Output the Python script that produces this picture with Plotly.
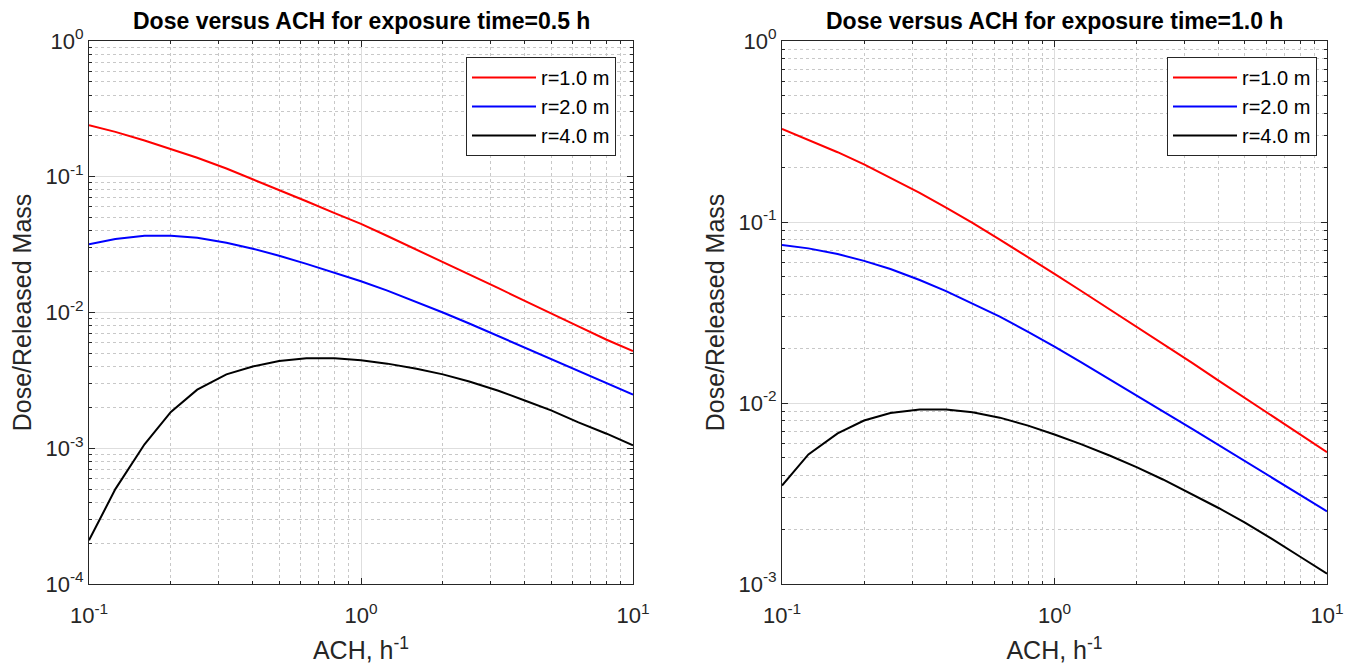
import plotly.graph_objects as go

ach = [0.1, 0.125, 0.16, 0.2, 0.25, 0.32, 0.4, 0.5, 0.63, 0.8, 1.0,
       1.25, 1.6, 2.0, 2.5, 3.2, 4.0, 5.0, 6.3, 8.0, 10.0]

# exposure time = 0.5 h
dose05_r1 = [0.240, 0.214, 0.185, 0.160, 0.138, 0.115, 0.096, 0.080, 0.066, 0.054, 0.045,
             0.0366, 0.0291, 0.0236, 0.0191, 0.0151, 0.0122, 0.0098, 0.0079, 0.0063, 0.0052]
dose05_r2 = [0.0318, 0.0348, 0.0367, 0.0368, 0.0355, 0.0326, 0.0295, 0.0262, 0.0228, 0.0196, 0.0170,
             0.0145, 0.0120, 0.0100, 0.0083, 0.0067, 0.0055, 0.0045, 0.0037, 0.0030, 0.00248]
dose05_r4 = [2.1e-4, 5.0e-4, 1.07e-3, 1.85e-3, 2.7e-3, 3.5e-3, 4.0e-3, 4.4e-3, 4.6e-3, 4.6e-3, 4.45e-3,
             4.2e-3, 3.85e-3, 3.5e-3, 3.1e-3, 2.65e-3, 2.25e-3, 1.9e-3, 1.55e-3, 1.28e-3, 1.05e-3]

# exposure time = 1.0 h
dose10_r1 = [0.327, 0.285, 0.243, 0.208, 0.176, 0.145, 0.120, 0.099, 0.080, 0.064, 0.0517,
             0.0417, 0.0328, 0.0264, 0.0212, 0.01665, 0.0133, 0.01066, 0.00849, 0.00669, 0.00535]
dose10_r2 = [0.0746, 0.0715, 0.0665, 0.0610, 0.0550, 0.0478, 0.0415, 0.0355, 0.0300, 0.0247, 0.0205,
             0.0168, 0.0135, 0.0110, 0.0090, 0.0072, 0.00587, 0.00478, 0.00387, 0.00310, 0.00252]
dose10_r4 = [0.0035, 0.0052, 0.0068, 0.0080, 0.0088, 0.0092, 0.0092, 0.0089, 0.0083, 0.0075, 0.0067,
             0.00593, 0.00511, 0.00442, 0.00378, 0.00314, 0.00263, 0.00218, 0.00177, 0.00141, 0.00114]

series_names = ["r=1.0 m", "r=2.0 m", "r=4.0 m"]
series_colors = ["#ff0000", "#0000ff", "#000000"]
titles = ["Dose versus ACH for exposure time=0.5 h", "Dose versus ACH for exposure time=1.0 h"]

x_tickvals = [0.1, 1, 10]
x_ticktext = ["10<sup>-1</sup>", "10<sup>0</sup>", "10<sup>1</sup>"]
y1_tickvals = [1e-4, 1e-3, 1e-2, 1e-1, 1]
y1_ticktext = ["10<sup>-4</sup>", "10<sup>-3</sup>", "10<sup>-2</sup>", "10<sup>-1</sup>", "10<sup>0</sup>"]
y2_tickvals = [1e-3, 1e-2, 1e-1, 1]
y2_ticktext = ["10<sup>-3</sup>", "10<sup>-2</sup>", "10<sup>-1</sup>", "10<sup>0</sup>"]

W, H = 1357, 666
FONT = "Liberation Sans, Arial, sans-serif"

fig = go.Figure()

panels = [
    (dict(xaxis="x", yaxis="y"), [dose05_r1, dose05_r2, dose05_r4], "legend"),
    (dict(xaxis="x2", yaxis="y2"), [dose10_r1, dose10_r2, dose10_r4], "legend2"),
]
for axes, data, leg in panels:
    for name, col, ys in zip(series_names, series_colors, data):
        fig.add_trace(go.Scatter(x=ach, y=ys, mode="lines", name=name,
                                 line=dict(color=col, width=2), legend=leg, **axes))

dom_left = [89 / W, 633 / W]
dom_right = [782 / W, 1327 / W]
dom_y = [1 - 584 / H, 1 - 41 / H]

axis_common = dict(
    type="log", automargin=False, showline=True, linecolor="#262626", linewidth=1, mirror="ticks",
    ticks="inside", ticklen=6, tickcolor="#262626", tickwidth=1,
    showgrid=True, gridcolor="#dedede", gridwidth=1,
    tickfont=dict(family=FONT, size=22, color="#262626"),
    zeroline=False,
    minor=dict(dtick="D1", ticks="inside", ticklen=3, tickcolor="#262626",
               showgrid=True, gridcolor="#c8c8c8", griddash="dot", gridwidth=1),
)
xtitle = dict(text="ACH, h<sup>-1</sup>", font=dict(family=FONT, size=25, color="#262626"), standoff=14)
ytitle = dict(text="Dose/Released Mass", font=dict(family=FONT, size=25, color="#262626"), standoff=6)

legend_common = dict(yanchor="top", xanchor="right", bordercolor="#262626", borderwidth=1,
                     bgcolor="white", font=dict(family=FONT, size=20, color="#000000"),
                     itemwidth=64, tracegroupgap=0)

fig.update_layout(
    width=W, height=H, margin=dict(l=0, r=0, t=0, b=0),
    paper_bgcolor="white", plot_bgcolor="white",
    xaxis=dict(domain=dom_left, range=[-1, 1], tickvals=x_tickvals, ticktext=x_ticktext,
               anchor="y", title=xtitle, ticklabelstandoff=12, **axis_common),
    yaxis=dict(domain=dom_y, range=[-4, 0], tickvals=y1_tickvals, ticktext=y1_ticktext,
               anchor="x", title=ytitle, **axis_common),
    xaxis2=dict(domain=dom_right, range=[-1, 1], tickvals=x_tickvals, ticktext=x_ticktext,
                anchor="y2", title=xtitle, ticklabelstandoff=12, **axis_common),
    yaxis2=dict(domain=dom_y, range=[-3, 0], tickvals=y2_tickvals, ticktext=y2_ticktext,
                anchor="x2", title=ytitle, **axis_common),
    legend=dict(x=616 / W, y=1 - 57 / H, **legend_common),
    legend2=dict(x=1317 / W, y=1 - 57 / H, **legend_common),
    showlegend=True,
)

for dom, t in zip([dom_left, dom_right], titles):
    fig.add_annotation(text="<b>" + t + "</b>", x=(dom[0] + dom[1]) / 2, y=1 - 21 / H,
                       xref="paper", yref="paper", showarrow=False, xanchor="center", yanchor="middle",
                       font=dict(family=FONT, size=23, color="#000000"))

fig.write_html("out.html")
